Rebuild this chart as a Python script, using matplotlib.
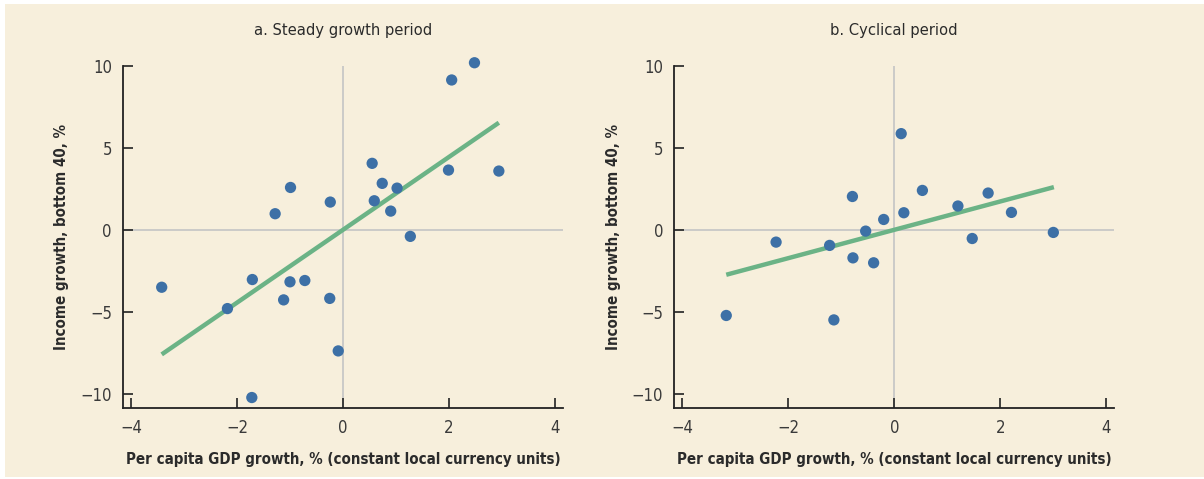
import numpy as np
import matplotlib
matplotlib.use("Agg")
import matplotlib.pyplot as plt
from matplotlib import font_manager
from matplotlib.patches import Rectangle

# prefer a narrow sans if one is around
narrow = [f for f in font_manager.fontManager.ttflist
          if ("Narrow" in f.name or "Condensed" in f.name or "condensed" in f.stretch)]
if narrow:
    plt.rcParams["font.family"] = [narrow[0].name, "DejaVu Sans"]
else:
    plt.rcParams["font.family"] = ["DejaVu Sans"]
plt.rcParams["font.stretch"] = "condensed"

# Panel a: steady growth period
steady_gdp = [-3.42, -2.18, -1.71, -1.72, -1.28, -0.99, -1.12, -1.00, -0.72, -0.24, -0.25,
              -0.09, 0.55, 0.59, 0.74, 0.90, 1.02, 1.27, 1.99, 2.05, 2.48, 2.94]
steady_income = [-3.5, -4.8, -3.03, -10.22, 0.98, 2.58, -4.27, -3.17, -3.09, 1.69, -4.18,
                 -7.38, 4.05, 1.77, 2.83, 1.14, 2.54, -0.40, 3.64, 9.13, 10.18, 3.58]
steady_fit = (2.22, 0.0)          # slope, intercept
steady_fit_range = (-3.42, 2.94)

# Panel b: cyclical period
cyc_gdp = [-3.17, -2.23, -1.22, -1.14, -0.79, -0.78, -0.54, -0.39, -0.20, 0.13, 0.18,
           0.53, 1.20, 1.47, 1.77, 2.21, 3.00]
cyc_income = [-5.22, -0.75, -0.95, -5.49, 2.03, -1.71, -0.08, -2.01, 0.63, 5.86, 1.04,
              2.40, 1.45, -0.53, 2.24, 1.06, -0.16]
cyc_fit = (0.864, 0.0)
cyc_fit_range = (-3.17, 3.01)

titles = ["a. Steady growth period", "b. Cyclical period"]
xlabel = "Per capita GDP growth, % (constant local currency units)"
ylabel = "Income growth, bottom 40, %"

BG = "#F7EFDC"
DOT = "#3D70A6"
LINE = "#6BB386"
TXT = "#2b2b2b"

fig = plt.figure(figsize=(12.04, 4.79), dpi=100, facecolor="white")
fig.patches.append(Rectangle((5 / 1204, 0.004), 1 - 5 / 1204, 1 - 4 / 479 - 0.004,
                             transform=fig.transFigure, facecolor=BG, edgecolor="none",
                             zorder=-10))

panels = [
    (123, steady_gdp, steady_income, steady_fit, steady_fit_range),
    (674.3, cyc_gdp, cyc_income, cyc_fit, cyc_fit_range),
]

for i, (left_px, gx, gy, fit, frange) in enumerate(panels):
    ax = fig.add_axes([left_px / 1204, 1 - 407.7 / 479, 440 / 1204, 342 / 479])
    ax.set_facecolor(BG)
    ax.patch.set_alpha(0)
    ax.set_xlim(-4.15, 4.15)
    ax.set_ylim(-10.84, 10)

    ax.axvline(0, color="#c4c4c4", lw=1.2, zorder=1)
    ax.axhline(0, color="#c4c4c4", lw=1.2, zorder=1)

    xs = np.array(frange)
    ax.plot(xs, fit[0] * xs + fit[1], color=LINE, lw=3.2, solid_capstyle="butt", zorder=2)
    ax.scatter(gx, gy, s=66, color=DOT, edgecolors="none", zorder=3, clip_on=False)

    for side in ("top", "right"):
        ax.spines[side].set_visible(False)
    for side in ("left", "bottom"):
        ax.spines[side].set_linewidth(1.3)
        ax.spines[side].set_color("#222222")

    ax.set_xticks([-4, -2, 0, 2, 4])
    ax.set_xticklabels(["\u22124", "\u22122", "0", "2", "4"])
    ax.set_yticks([-10, -5, 0, 5, 10])
    ax.set_yticklabels(["\u221210", "\u22125", "0", "5", "10"])
    ax.tick_params(direction="in", length=7, width=1.2, color="#222222",
                   labelsize=12, labelcolor="#3a3a3a", pad=8)

    ax.set_title(titles[i], fontsize=11.8, color=TXT, pad=22)
    ax.set_xlabel(xlabel, fontsize=10.8, fontweight="bold", color=TXT, labelpad=11)
    ax.set_ylabel(ylabel, fontsize=10.8, fontweight="bold", color=TXT, labelpad=8)

fig.savefig("out.png", dpi=100, facecolor="white")
